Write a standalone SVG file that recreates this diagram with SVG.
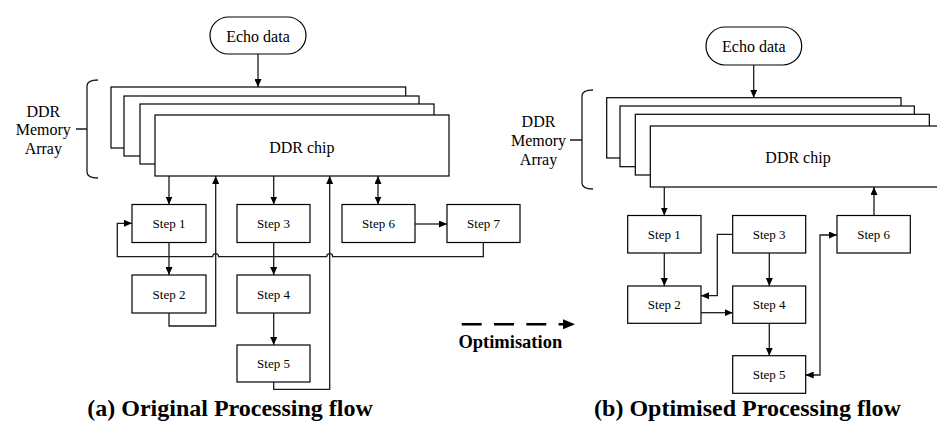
<svg xmlns="http://www.w3.org/2000/svg" width="937" height="421" viewBox="0 0 937 421">
  <style>
    .box { fill: #fff; stroke: #000; stroke-width: 1.2; }
    .wire { fill: none; stroke: #1a1a1a; stroke-width: 1.3; }
    .t { font-family: "Liberation Serif", "Times New Roman", serif; fill: #000; text-anchor: middle; }
    .step { font-size: 13px; }
    .big { font-size: 16px; }
    .title { font-size: 24px; font-weight: bold; }
  </style>
  <defs>
    <marker id="arr" viewBox="0 0 8 7" refX="8" refY="3.5" markerWidth="8" markerHeight="7" orient="auto-start-reverse" markerUnits="userSpaceOnUse">
      <path d="M0,0 L8,3.5 L0,7 z" fill="#000"/>
    </marker>
  </defs>

  <rect width="937" height="421" fill="#fff"/>

  <!-- ===== (a) Original processing flow ===== -->
  <g id="a-echo">
    <rect class="box" x="210" y="17" width="96" height="37" rx="18.5"/>
    <text class="t big" x="258" y="41.5">Echo data</text>
  </g>
  <g id="a-ddr-array">
    <rect class="box" x="111" y="87" width="294.7" height="61"/>
    <rect class="box" x="124" y="96" width="295" height="60"/>
    <rect class="box" x="140" y="104" width="294" height="60"/>
    <rect class="box" x="155" y="115" width="294" height="61"/>
    <text class="t big" x="301.8" y="152.5">DDR chip</text>
  </g>
  <g id="a-array-label">
    <path class="wire" d="M98,80 Q87,80 87,86 L87,172 Q87,178 98,178 M76,129 L87,129"/>
    <text class="t big" x="43.3" y="116.5">DDR</text>
    <text class="t big" x="43.3" y="135">Memory</text>
    <text class="t big" x="43.3" y="153.5">Array</text>
  </g>
  <g id="a-step1"><rect class="box" x="132" y="204.5" width="74" height="38"/><text class="t step" x="169" y="228">Step 1</text></g>
  <g id="a-step2"><rect class="box" x="132" y="275" width="74" height="38"/><text class="t step" x="169" y="298.5">Step 2</text></g>
  <g id="a-step3"><rect class="box" x="237" y="204.5" width="73" height="38"/><text class="t step" x="273.5" y="228">Step 3</text></g>
  <g id="a-step4"><rect class="box" x="237" y="275" width="73" height="38"/><text class="t step" x="273.5" y="298.5">Step 4</text></g>
  <g id="a-step5"><rect class="box" x="237" y="345" width="73" height="37"/><text class="t step" x="273.5" y="368">Step 5</text></g>
  <g id="a-step6"><rect class="box" x="342" y="204.5" width="73" height="38"/><text class="t step" x="378.5" y="228">Step 6</text></g>
  <g id="a-step7"><rect class="box" x="447" y="204.5" width="73" height="38"/><text class="t step" x="483.5" y="228">Step 7</text></g>
  <text class="t title" x="230" y="415.5">(a) Original Processing flow</text>

  <!-- ===== (b) Optimised processing flow ===== -->
  <g id="b-echo">
    <rect class="box" x="706" y="27" width="95.7" height="38" rx="19"/>
    <text class="t big" x="753.8" y="51.5">Echo data</text>
  </g>
  <g id="b-ddr-array">
    <rect class="box" x="606.7" y="97.7" width="294.3" height="60.3"/>
    <rect class="box" x="620" y="106" width="294.3" height="60.7"/>
    <rect class="box" x="635.3" y="114.3" width="294" height="60.7"/>
    <rect class="box" x="650.3" y="126" width="300" height="61"/>
    <text class="t big" x="798" y="163">DDR chip</text>
  </g>
  <g id="b-array-label">
    <path class="wire" d="M593,90 Q582,90 582,96 L582,183 Q582,189 593,189 M570,140 L582,140"/>
    <text class="t big" x="538.5" y="126.5">DDR</text>
    <text class="t big" x="538.5" y="145.5">Memory</text>
    <text class="t big" x="538.5" y="164.5">Array</text>
  </g>
  <g id="b-step1"><rect class="box" x="627.7" y="215.5" width="73.3" height="37.5"/><text class="t step" x="664.3" y="238.8">Step 1</text></g>
  <g id="b-step2"><rect class="box" x="627.7" y="286" width="73.3" height="37.3"/><text class="t step" x="664.3" y="309.2">Step 2</text></g>
  <g id="b-step3"><rect class="box" x="732.7" y="215.5" width="73" height="37.5"/><text class="t step" x="769.2" y="238.8">Step 3</text></g>
  <g id="b-step4"><rect class="box" x="732.7" y="286" width="73" height="37.3"/><text class="t step" x="769.2" y="309.2">Step 4</text></g>
  <g id="b-step5"><rect class="box" x="732.7" y="355.7" width="73" height="37.6"/><text class="t step" x="769.2" y="379">Step 5</text></g>
  <g id="b-step6"><rect class="box" x="837" y="215.5" width="73.3" height="37.5"/><text class="t step" x="873.7" y="238.8">Step 6</text></g>
  <text class="t title" x="747.5" y="415.5">(b) Optimised Processing flow</text>

  <!-- optimisation transition -->
  <g id="optimisation">
    <line x1="461.7" y1="324.3" x2="565" y2="324.3" stroke="#000" stroke-width="2.6" stroke-dasharray="20 12.3"/>
    <path d="M563,319.3 L575,324.3 L563,329.3 z" fill="#000"/>
    <text class="t" x="510.3" y="348" font-size="18.5" font-weight="bold">Optimisation</text>
  </g>

  <!-- connectors -->
  <g id="connectors">
    <!-- (a) -->
    <line class="wire" x1="258" y1="54" x2="258" y2="87" marker-end="url(#arr)"/>
    <line class="wire" x1="169" y1="176" x2="169" y2="204.5" marker-end="url(#arr)"/>
    <line class="wire" x1="273.7" y1="176" x2="273.7" y2="204.5" marker-end="url(#arr)"/>
    <line class="wire" x1="378" y1="176" x2="378" y2="204.5" marker-start="url(#arr)" marker-end="url(#arr)"/>
    <line class="wire" x1="169" y1="242.5" x2="169" y2="275" marker-end="url(#arr)"/>
    <line class="wire" x1="273.7" y1="242.5" x2="273.7" y2="275" marker-end="url(#arr)"/>
    <line class="wire" x1="273.7" y1="313" x2="273.7" y2="345" marker-end="url(#arr)"/>
    <line class="wire" x1="415" y1="224" x2="447" y2="224" marker-end="url(#arr)"/>
    <polyline class="wire" points="169,313 169,326 215.7,326 215.7,176" marker-end="url(#arr)"/>
    <polyline class="wire" points="273.7,382 273.7,389.3 329.7,389.3 329.7,176" marker-end="url(#arr)"/>
    <path class="wire" d="M483.3,242.5 L483.3,256.7 L332.7,256.7 A3,3 0 0 0 326.7,256.7 L218.7,256.7 A3,3 0 0 0 212.7,256.7 L117.3,256.7 L117.3,223.3 L132,223.3" marker-end="url(#arr)"/>
    <!-- (b) -->
    <line class="wire" x1="753.7" y1="65" x2="753.7" y2="97.7" marker-end="url(#arr)"/>
    <line class="wire" x1="664.3" y1="187" x2="664.3" y2="215.5" marker-end="url(#arr)"/>
    <line class="wire" x1="664.3" y1="253" x2="664.3" y2="286" marker-end="url(#arr)"/>
    <line class="wire" x1="769.3" y1="253" x2="769.3" y2="286" marker-end="url(#arr)"/>
    <line class="wire" x1="769.3" y1="323.3" x2="769.3" y2="355.7" marker-end="url(#arr)"/>
    <polyline class="wire" points="732.7,234.3 717.3,234.3 717.3,295.7 701,295.7" marker-end="url(#arr)"/>
    <line class="wire" x1="701" y1="312.7" x2="732.7" y2="312.7" marker-end="url(#arr)"/>
    <polyline class="wire" points="805.7,375 820,375 820,235 837,235" marker-start="url(#arr)" marker-end="url(#arr)"/>
    <line class="wire" x1="874" y1="215.5" x2="874" y2="187" marker-end="url(#arr)"/>
  </g>
</svg>
